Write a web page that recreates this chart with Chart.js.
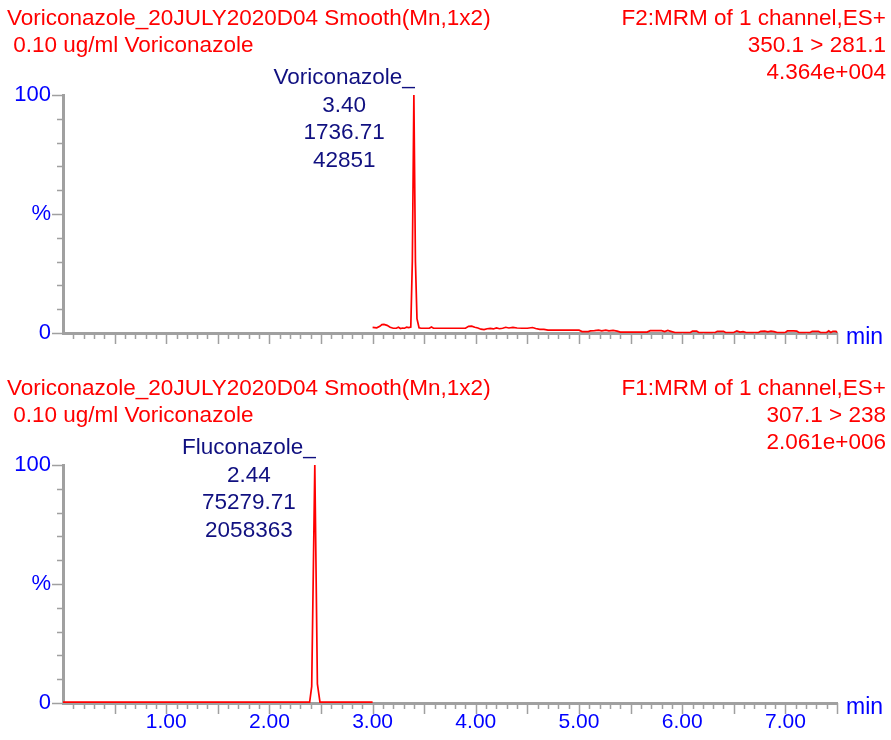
<!DOCTYPE html>
<html>
<head>
<meta charset="utf-8">
<script src="https://cdn.jsdelivr.net/npm/chart.js@4.4.0/dist/chart.umd.min.js"></script>
<style>
  body { margin: 0; background: #fff; }
  .panel { position: relative; width: 891px; height: 370px; }
  .panel canvas { position: absolute; left: 0; top: 0; }
  .hdr { position: absolute; top: 4px; font: 22.5px 'Liberation Sans', Arial, sans-serif; color: #ff0000; line-height: 27px; white-space: pre; }
  .hdr.left { left: 7px; }
  .hdr.right { right: 5px; text-align: right; }
</style>
</head>
<body>
<div class="panel">
  <canvas id="chartTop" width="891" height="370"></canvas>
  <div class="hdr left" id="hdrTopL"></div>
  <div class="hdr right" id="hdrTopR"></div>
</div>
<div class="panel">
  <canvas id="chartBottom" width="891" height="370"></canvas>
  <div class="hdr left" id="hdrBotL"></div>
  <div class="hdr right" id="hdrBotR"></div>
</div>
<script>
// headers
var topHeaderLeft = ["Voriconazole_20JULY2020D04 Smooth(Mn,1x2)", " 0.10 ug/ml Voriconazole"];
var topHeaderRight = ["F2:MRM of 1 channel,ES+", "350.1 > 281.1", "4.364e+004"];
var botHeaderLeft = ["Voriconazole_20JULY2020D04 Smooth(Mn,1x2)", " 0.10 ug/ml Voriconazole"];
var botHeaderRight = ["F1:MRM of 1 channel,ES+", "307.1 > 238", "2.061e+006"];

// peak labels
var voriPeakText = ["Voriconazole_", "3.40", "1736.71", "42851"];
var fluPeakText = ["Fluconazole_", "2.44", "75279.71", "2058363"];

// time axis (min)
var timeMin = 0;
var timeMax = 7.5;

// top trace: voriconazole 350.1 > 281.1 (% of max)
var voriTime = [3.00, 3.04, 3.07, 3.09, 3.11, 3.14, 3.17, 3.20, 3.23, 3.25, 3.27, 3.29, 3.31, 3.33, 3.35, 3.37,
  3.385, 3.40, 3.415, 3.43, 3.45, 3.47, 3.55, 3.57, 3.59, 3.75, 3.90, 3.93, 3.96, 3.99, 4.02, 4.05, 4.08,
  4.11, 4.14, 4.17, 4.20, 4.23, 4.26, 4.29, 4.32, 4.36, 4.40, 4.45, 4.50, 4.55, 4.58, 4.62, 4.66, 4.70,
  4.80, 4.90, 5.00, 5.03, 5.09, 5.11, 5.15, 5.19, 5.22, 5.26, 5.29, 5.33, 5.37, 5.40, 5.50, 5.60, 5.66,
  5.69, 5.75, 5.80, 5.83, 5.86, 5.89, 5.93, 6.00, 6.08, 6.10, 6.14, 6.16, 6.25, 6.32, 6.34, 6.40, 6.42,
  6.50, 6.53, 6.56, 6.59, 6.62, 6.70, 6.74, 6.76, 6.80, 6.83, 6.86, 6.89, 6.92, 7.00, 7.02, 7.08, 7.11,
  7.13, 7.20, 7.24, 7.26, 7.32, 7.34, 7.40, 7.42, 7.44, 7.46, 7.49, 7.50];
var voriPct = [2.4, 2.2, 2.8, 3.5, 3.6, 3.2, 2.4, 2.0, 2.0, 2.4, 1.9, 2.1, 2.0, 2.5, 2.3, 2.5,
  30, 100, 30, 6, 2.2, 2.0, 2.0, 2.5, 2.0, 2.0, 2.0, 2.8, 2.9, 2.4, 2.1, 1.6, 1.4,
  1.8, 1.9, 1.7, 2.1, 1.8, 2.0, 2.4, 2.1, 2.4, 2.1, 2.0, 2.0, 2.3, 1.9, 1.5, 1.5, 1.2,
  1.2, 1.2, 1.2, 0.6, 0.6, 0.9, 1.0, 1.2, 0.9, 1.2, 0.9, 1.1, 0.8, 0.4, 0.4, 0.4, 0.4,
  1.0, 1.0, 1.0, 0.6, 1.1, 0.7, 0.2, 0.2, 0.2, 0.8, 0.8, 0.2, 0.2, 0.2, 0.7, 0.7, 0.2,
  0.2, 0.9, 0.4, 0.6, 0.2, 0.2, 0.2, 0.7, 0.8, 0.5, 0.8, 0.6, 0.2, 0.2, 0.9, 0.9, 0.8,
  0.2, 0.2, 0.2, 0.7, 0.7, 0.2, 0.2, 0.9, 0.2, 0.7, 0.7, 0.2];

// bottom trace: fluconazole 307.1 > 238 (% of max)
var fluTime = [0.00, 2.39, 2.41, 2.44, 2.465, 2.49, 3.00];
var fluPct = [0.4, 0.4, 7, 100, 8, 0.4, 0.4];

var axisGray = "#a0a0a0";
var traceRed = "#ff0000";
var labelBlue = "#0000ff";
var peakNavy = "#101080";
var fontFamily = "'Liberation Sans', Arial, sans-serif";

Chart.defaults.font.family = fontFamily;
Chart.defaults.font.size = 21;

function fillHeader(id, lines) {
  document.getElementById(id).textContent = lines.join("\n");
}
fillHeader("hdrTopL", topHeaderLeft);
fillHeader("hdrTopR", topHeaderRight);
fillHeader("hdrBotL", botHeaderLeft);
fillHeader("hdrBotR", botHeaderRight);

function near(v, step) {
  return Math.abs(v / step - Math.round(v / step)) < 1e-6;
}

// tick marks, "min" unit and peak annotation
var decorations = {
  id: "decorations",
  afterDraw: function (chart) {
    var ctx = chart.ctx;
    var xs = chart.scales.x, ys = chart.scales.y;
    var area = chart.chartArea;
    ctx.save();
    ctx.strokeStyle = axisGray;
    ctx.lineWidth = 1.5;
    ctx.beginPath();
    xs.ticks.forEach(function (t) {
      if (t.value <= 0) return;
      var px = Math.round(xs.getPixelForValue(t.value)) + 0.5;
      var len = near(t.value, 0.5) ? 11 : 6;
      ctx.moveTo(px, area.bottom);
      ctx.lineTo(px, area.bottom + len);
    });
    ys.ticks.forEach(function (t) {
      var py = Math.round(ys.getPixelForValue(t.value)) + 0.5;
      var len = near(t.value, 50) ? 11 : 6;
      ctx.moveTo(area.left, py);
      ctx.lineTo(area.left - len, py);
    });
    ctx.stroke();

    ctx.font = "23px " + fontFamily;
    ctx.fillStyle = labelBlue;
    ctx.textAlign = "left";
    ctx.textBaseline = "middle";
    ctx.fillText("min", area.right + 9, area.bottom + 5);

    ctx.font = "22.5px " + fontFamily;
    var opts = chart.options.plugins.decorations;
    var ds = chart.data.datasets[0].data;
    var peak = ds[0];
    ds.forEach(function (p) { if (p.y > peak.y) peak = p; });
    var px = xs.getPixelForValue(peak.x);
    var lines = opts.peakText;
    var w1 = ctx.measureText(lines[0]).width;
    var cx = px + 1 - w1 / 2;
    ctx.fillStyle = peakNavy;
    ctx.textAlign = "center";
    lines.forEach(function (s, i) {
      ctx.fillText(s, cx, area.top - 17 + i * 27.5);
    });
    ctx.restore();
  }
};

function makeChart(canvasId, times, values, peakText, showTimeLabels) {
  var points = times.map(function (t, i) { return { x: t, y: values[i] }; });
  return new Chart(document.getElementById(canvasId), {
    type: "line",
    data: {
      datasets: [{
        data: points,
        borderColor: traceRed,
        borderWidth: 1.7,
        pointRadius: 0,
        tension: 0,
        fill: false,
        clip: false
      }]
    },
    options: {
      responsive: false,
      animation: false,
      devicePixelRatio: 1,
      layout: { padding: { top: 95, right: 54, left: 0, bottom: 0 } },
      plugins: {
        legend: { display: false },
        tooltip: { enabled: false },
        decorations: { peakText: peakText }
      },
      scales: {
        x: {
          type: "linear",
          min: timeMin,
          max: timeMax,
          grid: { display: false, drawTicks: false },
          border: { color: axisGray, width: 3 },
          afterFit: function (s) { s.height = 37; },
          ticks: {
            display: showTimeLabels,
            stepSize: 0.1,
            autoSkip: false,
            maxRotation: 0,
            minRotation: 0,
            padding: 7,
            color: labelBlue,
            callback: function (v) {
              return v > 0 && near(v, 1) ? v.toFixed(2) : "";
            }
          }
        },
        y: {
          min: 0,
          max: 100,
          grid: { display: false, drawTicks: false },
          border: { color: axisGray, width: 3 },
          afterFit: function (s) { s.width = 63; },
          ticks: {
            stepSize: 10,
            autoSkip: false,
            padding: 12,
            color: labelBlue,
            font: { size: 22 },
            callback: function (v) {
              if (v === 0) return "0";
              if (v === 50) return "%";
              if (v === 100) return "100";
              return "";
            }
          }
        }
      }
    },
    plugins: [decorations]
  });
}

makeChart("chartTop", voriTime, voriPct, voriPeakText, false);
makeChart("chartBottom", fluTime, fluPct, fluPeakText, true);
</script>
</body>
</html>
